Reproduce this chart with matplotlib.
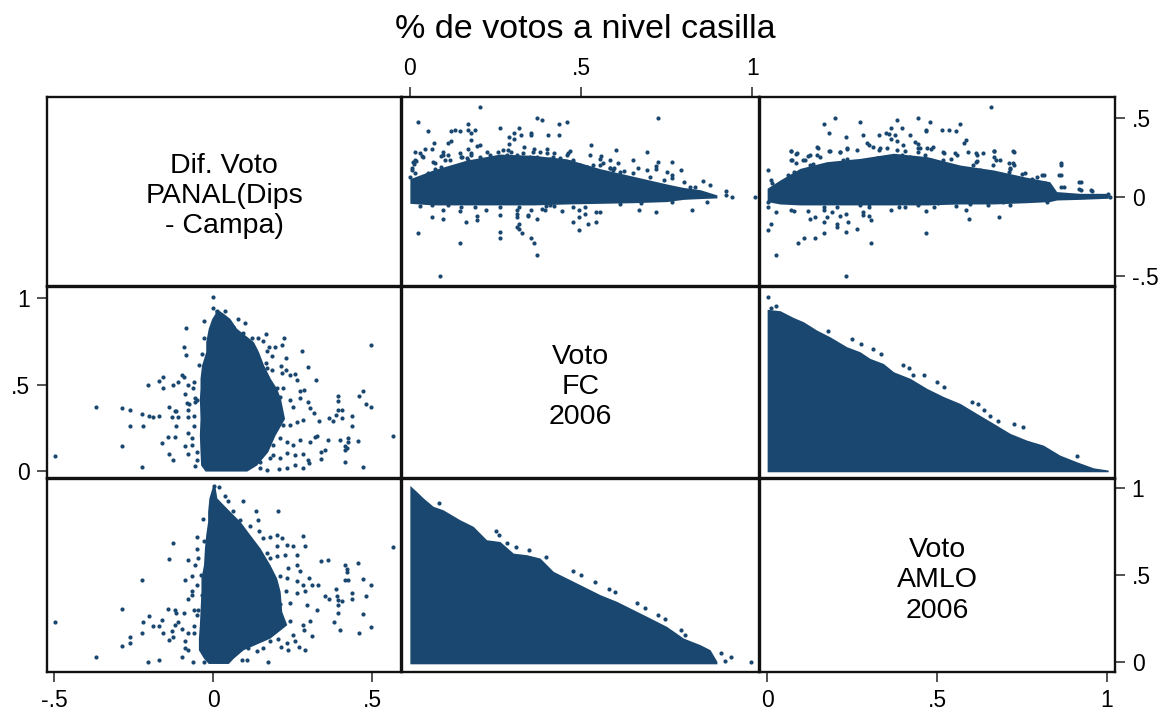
"""
Matriz de dispersion: diferencia de voto PANAL frente a voto FC y AMLO 2006.
Las zonas densas se dibujan como envolventes y los puntos sueltos con scatter.
"""
import matplotlib
matplotlib.use("Agg")
import matplotlib.pyplot as plt

AZUL = "#1a476f"
W, H = 1168, 714

plt.rcParams.update({"font.family": "Liberation Sans"})

# puntos sueltos compartidos: (dif, fc)
DIF_FC = [-.498, -.368, -.287, -.260, -.287, -.260, -.224, -.219, -.224, -.201, -.188, -.170, -.160, -.143, -.119,
          -.138, -.125, -.138, -.129, -.119, -.115, -.110, -.115, -.080, -.080, -.080, -.088, -.080, -.057, -.205,
          -.170, -.156, -.156, -.125, -.110, -.097, -.092, -.080, -.088, -.083, -.077, -.061, -.064, -.056, -.051,
          -.060, -.056, -.060, -.066, -.066, -.051, -.049, -.043, -.035, -.092, -.084, -.084, -.029, -.029, .001,
          .001, .014, .038, .078, .101, .064, .095, .122, .140, .168, .158, .222, .217, .194, .175,
          .169, .184, .280, .231, .213, .298, .165, .169, .184, .216, .230, .242, .258, .263, .325,
          .153, .169, .200, .221, .274, .287, .211, .242, .274, .300, .253, .305, .316, .334, .284,
          .263, .242, .221, .200, .366, .378, .388, .392, .392, .405, .392, .405, .437, .437, .459,
          .473, .482, .496, .496, .567, .361, .400, .423, .423, .456, .415, .420, .415, .351, .339,
          .339, .415, .473, .328, .321, .305, .274, .253, .232, .211, .190, .179, .190, .211, .232,
          .258, .284, .300, .303, .284, .258, .234, .206, .169, .148, .127, .148]
FC_DIF = [.089, .370, .362, .355, .146, .262, .329, .262, .023, .320, .312, .320, .164, .197, .197,
          .096, .064, .370, .312, .345, .345, .312, .262, .355, .312, .222, .146, .096, .031, .495,
          .520, .545, .478, .495, .513, .555, .545, .495, .445, .395, .387, .513, .478, .420, .410,
          .320, .397, .262, .189, .150, .112, .064, .613, .676, .719, .669, .825, .867, .767, 1.008,
          .940, .925, .925, .877, .857, .834, .800, .767, .767, .792, .751, .767, .726, .719, .719,
          .694, .667, .694, .651, .609, .601, .626, .593, .584, .565, .584, .555, .559, .526, .528,
          .539, .501, .478, .478, .462, .468, .430, .410, .420, .401, .372, .362, .333, .289, .295,
          .285, .266, .266, .276, .304, .289, .324, .435, .403, .353, .353, .304, .320, .262, .435,
          .460, .387, .370, .726, .204, .179, .179, .189, .170, .171, .146, .131, .121, .121, .112,
          .071, .054, .023, .204, .197, .170, .179, .150, .170, .189, .150, .073, .092, .073, .102,
          .092, .096, .064, .044, .015, .035, .015, .012, .006, .015, .054, .054]

# puntos sueltos compartidos: (dif, amlo)
DIF_AMLO = [-.498, -.368, -.287, -.287, -.260, -.260, -.224, -.224, -.219, -.205, -.201, -.188, -.170, -.170, -.160,
            -.156, -.143, -.138, -.138, -.129, -.125, -.125, -.119, -.115, -.119, -.110, -.097, -.092, -.097, -.088,
            -.088, -.080, -.080, -.080, -.088, -.080, -.066, -.066, -.066, -.062, -.060, -.060, -.060, -.051, -.049,
            -.056, -.049, -.046, -.039, -.036, -.030, -.029, -.046, -.051, -.029, .002, .020, .038, .046, .095,
            .136, .140, .203, .064, .085, .116, .143, .158, .127, .179, .202, .216, .202, .232, .253,
            .284, .288, .263, .226, .200, .179, .169, .263, .274, .237, .303, .310, .331, .284, .263,
            .232, .211, .230, .263, .289, .195, .179, .211, .242, .295, .326, .305, .284, .287, .311,
            .242, .205, .253, .258, .271, .288, .234, .235, .214, .205, .179, .158, .137, .111, .106,
            .090, .172, .340, .361, .456, .415, .420, .422, .415, .423, .473, .496, .388, .437, .437,
            .482, .352, .364, .389, .394, .405, .392, .392, .473, .379, .400, .459, .496, .567]
AMLO_DIF = [.232, .027, .307, .092, .142, .109, .469, .167, .232, .002, .264, .207, .207, .010, .239,
            .167, .307, .594, .125, .176, .684, .142, .299, .282, .215, .232, .027, .282, .192, .469,
            .119, .584, .364, .167, .080, .071, .492, .406, .387, .002, .301, .205, .167, .716, .651,
            .556, .444, .598, .502, .387, .824, .693, .301, .272, .002, 1.010, 1.004, .956, .923, .923,
            .866, .816, .866, .866, .818, .780, .751, .713, .665, .716, .728, .713, .665, .674, .669,
            .726, .669, .617, .617, .607, .598, .626, .559, .521, .540, .483, .444, .444, .444, .464,
            .483, .492, .406, .397, .406, .429, .383, .333, .339, .330, .299, .234, .215, .182, .149,
            .234, .230, .157, .119, .084, .069, .111, .069, .084, .134, .119, .080, .061, .080, .010,
            .013, .002, .579, .586, .569, .556, .536, .515, .469, .469, .479, .444, .421, .397, .364,
            .381, .381, .364, .377, .358, .349, .330, .282, .274, .232, .182, .167, .199, .659]

# penachos sobre la zona densa de los paneles de arriba
PEN12_FC = [.029, .039, .010, .005, 0, .019, .097, .112, .146, .151, .180, .224, .234, .258, .273, .288, .331,
            .361, .380, .400, .439, .458, .478, .497, .517, .556, .585, .614, .653, .702, .741, .819, .068, .117,
            .166, .205, .312, .351, .419, .468, .536, .595]
PEN12_DIF = [.275, .254, .222, .180, .124, .229, .265, .265, .275, .254, .265, .286, .265, .286, .296, .296, .275,
             .286, .286, .275, .244, .265, .233, .202, .191, .202, .181, .160, .149, .128, .107, .065, .223, .233,
             .244, .254, .265, .254, .254, .223, .202, .181]
PEN13_AM = [.071, .087, .073, .107, .126, .146, .146, .185, .215, .234, .264, .293, .313, .333, .352, .381, .401,
            .435, .450, .470, .489, .518, .553, .592, .616, .636, .667, .725, .685, .724, .759, .810, .864, .860,
            .873, .918, .918, .952, .126, .224, .322, .420, .518, .616, .714, .793]
PEN13_DIF = [.292, .275, .233, .233, .265, .265, .317, .292, .281, .311, .296, .338, .317, .307, .307, .296, .328,
             .349, .307, .307, .313, .286, .275, .286, .275, .275, .292, .292, .233, .212, .149, .139, .212, .139,
             .065, .097, .048, .044, .202, .233, .244, .254, .233, .223, .181, .128]

# puntos sueltos junto al borde de los triangulos
AMLO_FC_P = [.003, .012, .026, .180, .251, .276, .313, .334, .401, .419, .430, .461, .499, .521, .602, .622, .638,
             .656, .680, .726, .752, .911]
FC_AMLO_P = [1.008, .944, .954, .809, .763, .734, .705, .676, .613, .597, .555, .555, .513, .487, .401, .387, .353,
             .320, .289, .272, .254, .089]
FC_AMLO_Q = [.086, .253, .259, .283, .310, .349, .398, .478, .499, .541, .583, .599, .663, .687, .724, .746, .792,
             .804, .909, .921, .938, .997]
AMLO_FC_Q = [.916, .751, .728, .684, .659, .642, .602, .521, .502, .460, .421, .402, .337, .310, .272, .247, .186,
             .157, .052, .008, .027, .002]

# envolventes de las zonas densas
ENV12_FC = [0, .068, .166, .263, .361, .458, .556, .653, .75, .799, .848, .897]
ENV12_TOP = [.115, .170, .232, .270, .262, .240, .178, .130, .082, .060, .046, .013]
ENV12_BOT = [-.04, -.05, -.05, -.05, -.05, -.044, -.04, -.036, -.029, -.015, -.01, -.006]

ENV13_AM = [0, .038, .097, .175, .274, .372, .470, .568, .666, .764, .832, .852, .921, 1.004]
ENV13_TOP = [.055, .107, .180, .222, .243, .275, .254, .201, .170, .124, .096, .034, .023, .023]
ENV13_BOT = [-.029, -.044, -.05, -.05, -.05, -.05, -.05, -.044, -.044, -.036, -.029, -.019, -.015, -.008]

ENV21_FC = [.931, .911, .882, .825, .748, .690, .613, .536, .478, .420, .304, .208, .112, .035, 0]
ENV21_L = [.006, .006, -.004, -.015, -.023, -.023, -.036, -.041, -.041, -.043, -.041, -.043, -.041, -.039, -.025]
ENV21_R = [.017, .033, .053, .074, .127, .143, .159, .180, .200, .212, .225, .195, .172, .137, .106]

ENV31_AM = [1.010, .943, .866, .808, .732, .655, .559, .483, .406, .291, .215, .138, .071, .023, -.008]
ENV31_L = [-.002, -.013, -.017, -.017, -.023, -.027, -.030, -.038, -.038, -.041, -.043, -.046, -.046, -.030, -.015]
ENV31_R = [.006, .012, .053, .085, .116, .148, .179, .200, .211, .216, .232, .179, .095, .064, .048]

ENV23_AM = [0, .038, .077, .107, .146, .185, .234, .273, .303, .342, .372, .421, .470, .520, .568, .617, .666,
            .715, .764, .813, .862, .911, .960, 1.004]
ENV23_FC = [.935, .927, .888, .863, .815, .776, .719, .690, .651, .622, .574, .536, .478, .430, .391, .333, .276,
            .218, .179, .150, .092, .054, .019, .006]

ENV32_FC = [0, .019, .039, .068, .097, .146, .185, .224, .263, .302, .341, .380, .419, .458, .507, .556, .604,
            .653, .702, .750, .799, .848, .877, .897]
ENV32_AM = [1.015, .981, .943, .895, .875, .818, .780, .703, .693, .626, .617, .598, .521, .483, .435, .387, .349,
            .301, .253, .205, .138, .100, .071, .004]

TICKS_DIF = [-.5, 0, .5]
TICKS_VOTO = [0, .5, 1]
ETQ_DIF = ["-.5", "0", ".5"]
ETQ_VOTO = ["0", ".5", "1"]

# cajas de los paneles en pixeles y limites de cada eje
COLS = [(47, 401), (402, 759), (760, 1115)]
FILAS = [(97, 286), (287, 478), (479, 672)]
XLIM = [(-.522, .591), (-.023, 1.020), (-.021, 1.024)]
YLIM = [(-.560, .629), (-.040, 1.064), (-.057, 1.052)]


def panel(fig, i, j):
    x0, x1 = COLS[j]
    y0, y1 = FILAS[i]
    ax = fig.add_axes([x0 / W, 1 - y1 / H, (x1 - x0) / W, (y1 - y0) / H])
    ax.set_xlim(XLIM[j])
    ax.set_ylim(YLIM[i])
    ax.set_xticks([])
    ax.set_yticks([])
    for s in ax.spines.values():
        s.set_linewidth(1.7)
        s.set_color("#111111")
    return ax


def puntos(ax, x, y):
    ax.scatter(x, y, s=9, color=AZUL, linewidths=0, marker="o", zorder=3)


def marcas(eje, ticks, etq, lado):
    eje.set_ticks(ticks, labels=etq)
    eje.set_tick_params(length=7, width=1.2, color="#333333", labelsize=16.5, pad=5)
    eje.set_ticks_position(lado)
    eje.set_label_position(lado)


def main():
    fig = plt.figure(figsize=(W / 100, H / 100), dpi=100)
    axs = [[panel(fig, i, j) for j in range(3)] for i in range(3)]

    ax = axs[0][1]
    ax.fill_between(ENV12_FC, ENV12_BOT, ENV12_TOP, color=AZUL, lw=0)
    puntos(ax, FC_DIF, DIF_FC)
    puntos(ax, PEN12_FC, PEN12_DIF)
    marcas(ax.xaxis, TICKS_VOTO, ETQ_VOTO, "top")

    ax = axs[0][2]
    ax.fill_between(ENV13_AM, ENV13_BOT, ENV13_TOP, color=AZUL, lw=0)
    puntos(ax, AMLO_DIF, DIF_AMLO)
    puntos(ax, PEN13_AM, PEN13_DIF)
    marcas(ax.yaxis, TICKS_DIF, ETQ_DIF, "right")

    ax = axs[1][0]
    ax.fill_betweenx(ENV21_FC, ENV21_L, ENV21_R, color=AZUL, lw=0)
    puntos(ax, DIF_FC, FC_DIF)
    marcas(ax.yaxis, TICKS_VOTO, ETQ_VOTO, "left")

    ax = axs[1][2]
    ax.fill_between(ENV23_AM, -.004, ENV23_FC, color=AZUL, lw=0)
    puntos(ax, AMLO_FC_P, FC_AMLO_P)

    ax = axs[2][0]
    ax.fill_betweenx(ENV31_AM, ENV31_L, ENV31_R, color=AZUL, lw=0)
    puntos(ax, DIF_AMLO, AMLO_DIF)
    marcas(ax.xaxis, TICKS_DIF, ETQ_DIF, "bottom")

    ax = axs[2][1]
    ax.fill_between(ENV32_FC, -.01, ENV32_AM, color=AZUL, lw=0)
    puntos(ax, FC_AMLO_Q, AMLO_FC_Q)

    ax = axs[2][2]
    marcas(ax.xaxis, TICKS_VOTO, ETQ_VOTO, "bottom")
    marcas(ax.yaxis, TICKS_VOTO, ETQ_VOTO, "right")

    # rotulos de la diagonal
    for k, txt in enumerate(["Dif. Voto\nPANAL(Dips\n- Campa)", "Voto\nFC\n2006", "Voto\nAMLO\n2006"]):
        axs[k][k].text(.5, .476, txt, transform=axs[k][k].transAxes, ha="center", va="center",
                       fontsize=20.5, linespacing=1.22)

    fig.text(585 / W, 1 - 29 / H, "% de votos a nivel casilla", ha="center", va="center", fontsize=24.5)
    fig.savefig("out.png", dpi=100)
    plt.close(fig)


if __name__ == "__main__":
    main()
